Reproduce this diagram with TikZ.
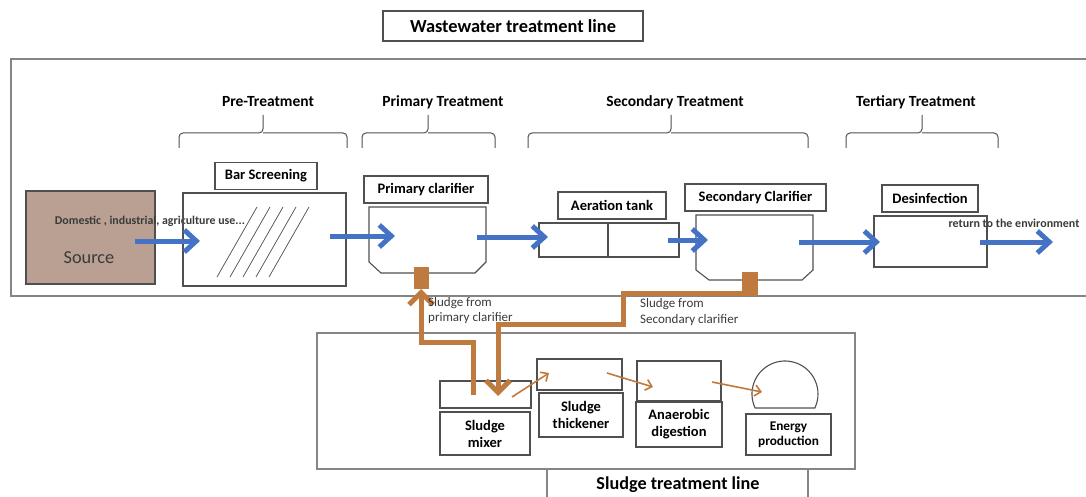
\documentclass[tikz,border=0pt]{standalone}
\usepackage{fontspec}
\setmainfont{Carlito}
\usetikzlibrary{arrows.meta}
\definecolor{blu}{HTML}{4472C4}
\definecolor{brn}{HTML}{BF7A3F}
\definecolor{srcfill}{HTML}{B9A092}
\definecolor{ln}{HTML}{505050}
\definecolor{frm}{HTML}{858585}
\definecolor{txt}{HTML}{3A3A3A}
\begin{document}
\begin{tikzpicture}[x=1pt,y=-1pt,
  box/.style={draw=ln, line width=1.1pt, inner sep=0pt},
  lbl/.style={draw=ln, line width=1.1pt, inner sep=0pt, align=center, font=\fontsize{14.5}{17}\selectfont\bfseries},
  frame/.style={draw=frm, line width=1.4pt},
  brace/.style={draw=ln, line width=1pt, rounded corners=4pt},
  head/.style={font=\fontsize{15.5}{17}\selectfont\bfseries},
  bluearrow/.style={draw=blu, line width=5pt, -{Straight Barb[length=12pt,width=22pt]}},
  sludgepipe/.style={draw=brn, line width=5pt, line join=miter},
  thinarrow/.style={draw=brn, line width=1.6pt, -{Straight Barb[length=6pt,width=11pt]}},
  note/.style={font=\fontsize{13}{15.5}\selectfont, text=txt, align=left, inner sep=0pt}
]
\useasboundingbox (0,0) rectangle (1086,497);

% title
\node[lbl, font=\fontsize{18.4}{20}\selectfont\bfseries, minimum width=260pt, minimum height=30pt] (title) at (513,26) {Wastewater treatment line};

% wastewater frame (open at the right edge)
\draw[frame] (1086,59) -- (11,59) -- (11,296) -- (1086,296);

% braces and stage headings
\foreach \L/\R/\T/\lx/\txt/\nm in {179/347/263/268/Pre-Treatment/pre, 362/495/428/443/Primary Treatment/prim, 528/808/671/675/Secondary Treatment/sec, 846/998/922/916/Tertiary Treatment/tert}{
  \draw[brace] (\L,148) |- (\T,133) -- (\T,115);
  \draw[brace] (\R,148) |- (\T,133);
  \node[head] (\nm) at (\lx,102) {\txt};
}

% source
\node[box, fill=srcfill, minimum width=129pt, minimum height=93pt] (source) at (90.5,237.5) {};
\node[font=\fontsize{18.3}{20}\selectfont, text=txt] (srctxt) at (89,258) {Source};
\node[font=\fontsize{11.9}{13}\selectfont\bfseries, text=txt] (use) at (150,221) {Domestic , industrial, agriculture use...};

% bar screening
\node[box, minimum width=163pt, minimum height=93pt] (bar) at (264.5,239.5) {};
\node[lbl, minimum width=102pt, minimum height=27pt] (barlbl) at (266,176) {Bar Screening};
\foreach \i in {0,...,4}{
  \draw[ln, line width=0.7pt] ({217+13*\i},277) -- ({257+13*\i},207);
}

% primary clarifier
\draw[box] (369,207) -- (486,207) -- (486,262) -- (475,273) -- (381,273) -- (369,262) -- cycle;
\coordinate (pc) at (427,240);
\node[lbl, minimum width=124pt, minimum height=27pt] (pclbl) at (426,189.5) {Primary clarifier};
\node[draw=brn, fill=brn, minimum width=14pt, minimum height=21pt, inner sep=0pt] (psq) at (421,277.5) {};

% aeration tank
\node[box, minimum width=140pt, minimum height=34pt] (aer) at (609,240) {};
\draw[ln, line width=1.1pt] (608,223) -- (608,257);
\node[lbl, minimum width=108pt, minimum height=27pt] (aerlbl) at (612,205.5) {Aeration tank};

% secondary clarifier
\draw[box] (696,215) -- (813,215) -- (813,270) -- (802,280) -- (709,280) -- (696,270) -- cycle;
\node[lbl, minimum width=141pt, minimum height=27pt] (sclbl) at (755.5,197.5) {Secondary Clarifier};
\node[draw=brn, fill=brn, minimum width=15pt, minimum height=23pt, inner sep=0pt] (ssq) at (749.5,283.5) {};

% desinfection
\node[box, minimum width=113pt, minimum height=51pt] (des) at (930.5,241.5) {};
\node[lbl, minimum width=96pt, minimum height=27pt] (deslbl) at (930,198.5) {Desinfection};
\node[font=\fontsize{12}{13}\selectfont\bfseries, text=txt] (ret) at (1014,223) {return to the environment};

% blue flow arrows
\coordinate (a1s) at (135,241); \coordinate (a1e) at (200,241);
\coordinate (a2s) at (330,236); \coordinate (a2e) at (395,236);
\coordinate (a3s) at (477,237); \coordinate (a3e) at (548,237);
\coordinate (a4s) at (668,240); \coordinate (a4e) at (708,240);
\coordinate (a5s) at (799,242); \coordinate (a5e) at (880,242);
\coordinate (a6s) at (980,242); \coordinate (a6e) at (1053,242);
\foreach \k in {1,...,6}{ \draw[bluearrow] (a\k s) -- (a\k e); }

% sludge treatment frame
\draw[frame] (317,333) rectangle (855,469);
\draw[frame] (547,497) -- (547,469);
\draw[frame] (808,469) -- (808,497);
\node[font=\fontsize{18.2}{20}\selectfont\bfseries] (stl) at (678,485) {Sludge treatment line};

% sludge units
\node[box, minimum width=91pt, minimum height=27pt] (mixtop) at (485.5,394.5) {};
\node[lbl, minimum width=90pt, minimum height=43pt] (mixlbl) at (485,433.5) {Sludge\\mixer};
\node[box, minimum width=85pt, minimum height=31pt] (thtop) at (579.5,374.5) {};
\node[lbl, minimum width=84pt, minimum height=44pt] (thlbl) at (581,415) {Sludge\\thickener};
\node[box, minimum width=84pt, minimum height=40pt] (antop) at (679,381) {};
\node[lbl, minimum width=86pt, minimum height=45pt] (anlbl) at (679,424.5) {Anaerobic\\digestion};
\draw[box] (755.1,408) arc[start angle=154.9, end angle=385.1, radius=33] -- cycle;
\coordinate (dome) at (785,390);
\node[lbl, font=\fontsize{13.3}{15.5}\selectfont\bfseries, minimum width=85pt, minimum height=41pt] (enlbl) at (788.5,434.5) {Energy\\production};

% thick sludge pipes
\coordinate (p1) at (473,395);
\coordinate (p2) at (421,289);
\draw[sludgepipe, -{Straight Barb[length=12pt,width=24pt]}] (p1) -- (473,342) -- (421,342) -- (p2);
\coordinate (s1) at (749.5,293);
\coordinate (s2) at (498,396);
\draw[sludgepipe, -{Straight Barb[length=12pt,width=24pt]}] (s1) -- (623,293) -- (623,324) -- (498,324) -- (s2);

\node[note, anchor=west] (n1) at (428,310.5) {Sludge from\\primary clarifier};
\node[note, anchor=west] (n2) at (640,312) {Sludge from\\Secondary clarifier};

% thin sludge arrows
\coordinate (t1s) at (512,397); \coordinate (t1e) at (549,373);
\coordinate (t2s) at (607,373); \coordinate (t2e) at (653,387);
\coordinate (t3s) at (712,382); \coordinate (t3e) at (762,392);
\draw[thinarrow] (t1s) -- (t1e);
\draw[thinarrow] (t2s) -- (t2e);
\draw[thinarrow] (t3s) -- (t3e);
\end{tikzpicture}
\end{document}
